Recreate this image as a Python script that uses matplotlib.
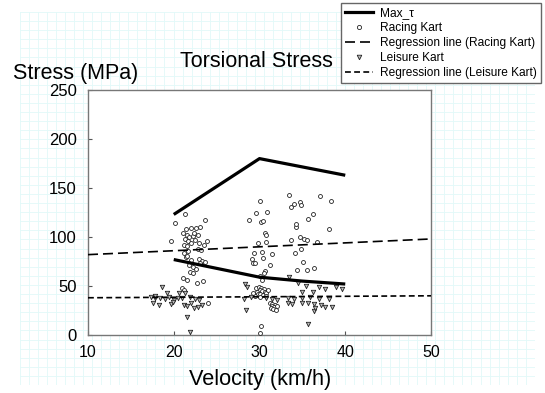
import matplotlib
matplotlib.use("Agg")
import matplotlib.pyplot as plt
from matplotlib.lines import Line2D
import numpy as np

plt.rcParams['font.family'] = ['Liberation Sans', 'DejaVu Sans']

# ---------------- data ----------------
max_tau_upper_v = [20, 30, 40]
max_tau_upper_s = [123, 180, 163]
max_tau_lower_v = [20, 30, 35, 40]
max_tau_lower_s = [77, 59, 55, 52]

reg_racing_v = [10, 50]
reg_racing_s = [82, 98]
reg_leisure_v = [10, 50]
reg_leisure_s = [38, 40]

racing_v = [21.3, 20.2, 23.6, 19.7, 21.4, 22.0, 22.6, 23.1, 21.1, 21.5, 21.8, 22.2, 21.3, 21.7,
            22.0, 21.2, 21.6, 22.5, 23.0, 23.5, 23.9, 22.8, 23.2, 21.7, 21.2, 21.4, 22.9, 23.3,
            23.6, 23.1, 21.8, 22.2, 22.6, 21.9, 22.3, 21.1, 21.5, 23.4, 22.7, 21.0, 21.2, 24.0,
            22.0, 21.6, 22.4, 22.8,
            33.4, 37.0, 30.1, 33.7, 34.0, 34.7, 34.8, 38.3, 29.6, 30.9, 36.2, 28.8, 30.2, 30.4,
            34.2, 34.3, 35.7, 38.1, 30.6, 30.8, 34.7, 35.2, 35.5, 33.7, 29.8, 30.8, 36.7, 34.8,
            29.4, 30.3, 31.4, 34.1, 29.1, 30.4, 29.2, 29.5, 35.1, 31.2, 36.4, 34.4, 35.5, 30.6,
            30.5, 30.0, 30.3,
            29.6, 29.9, 30.2, 30.5, 30.0, 30.3, 29.7, 30.6, 29.8, 30.1, 30.4, 30.8, 29.5, 30.0,
            30.7, 29.3, 31.0,
            31.2, 31.5, 31.8, 31.4, 31.7, 31.3, 31.6, 31.9, 32.0, 30.2, 30.1]
racing_s = [123, 114, 117, 96, 108, 109, 109, 110, 104, 102, 100, 101, 98, 96,
            94, 92, 91, 97, 94, 92, 96, 88, 87, 86, 84, 80, 78, 76,
            74, 73, 71, 69, 67, 64, 63, 58, 56, 55, 53, 48, 46, 33,
            77, 81, 104, 102,
            143, 142, 137, 131, 134, 136, 133, 137, 124, 126, 123, 117, 115, 116,
            110, 113, 118, 108, 104, 102, 100, 98, 97, 97, 94, 95, 95, 88,
            84, 85, 83, 84, 78, 79, 73, 73, 75, 71, 68, 66, 66, 65,
            63, 60, 56,
            48, 49, 48, 47, 46, 45, 44, 44, 42, 42, 41, 43, 40, 39,
            40, 43, 46,
            33, 32, 31, 30, 29, 28, 27, 26, 30, 9, 2]

leisure_v = [18.6, 19.2, 20.6, 21.3, 17.3, 17.8, 18.4, 19.0, 19.5, 20.0, 20.5, 21.0, 21.9, 22.5,
             23.0, 17.6, 18.3, 19.7, 21.2, 21.6, 22.0, 22.4, 22.8, 23.3, 21.6, 21.9, 19.9, 17.8,
             33.4, 28.3, 28.6, 34.5, 35.4, 36.9, 37.6, 38.9, 39.6, 35.0, 36.2, 28.2, 29.0, 33.3,
             34.0, 35.0, 35.9, 36.9, 38.1, 33.3, 33.8, 35.0, 35.6, 36.4, 37.2, 37.6, 38.5, 28.4,
             36.3, 36.5, 35.6, 30.7, 31.5, 32.0]
leisure_s = [49, 43, 43, 43, 39, 38, 38, 37, 39, 36, 38, 38, 39, 37,
             36, 33, 31, 32, 31, 30, 33, 28, 29, 31, 18, 3, 34, 40,
             59, 52, 49, 53, 50, 49, 47, 49, 47, 44, 44, 37, 39, 38,
             37, 38, 39, 37, 37, 33, 32, 33, 33, 32, 31, 29, 29, 26,
             25, 28, 11, 38, 37, 36]

x_ticks = [10, 20, 30, 40, 50]
y_ticks = [0, 50, 100, 150, 200, 250]

# ---------------- figure ----------------
W, H = 545, 393
fig = plt.figure(figsize=(W / 100, H / 100), dpi=100)
fig.patch.set_facecolor('white')

# graph-paper background
bg = fig.add_axes([20 / W, 8 / H, 515 / W, 373 / H], zorder=0)
bg.set_xlim(0, 515)
bg.set_ylim(0, 373)
for gx in np.arange(0, 516, 9.03):
    bg.axvline(gx, color='#e2f9f9', lw=0.6)
for gy in np.arange(0, 374, 9.1):
    bg.axhline(gy, color='#e2f9f9', lw=0.6)
bg.axis('off')

ax = fig.add_axes([88 / W, 1 - 335 / H, 343 / W, 245 / H], zorder=2)
ax.set_facecolor('white')

ax.scatter(racing_v, racing_s, s=8, marker='o', facecolors='white', edgecolors='#222222',
           linewidths=0.6, zorder=3)
ax.scatter(leisure_v, leisure_s, s=10, marker='v', facecolors='#bbbbbb', edgecolors='#222222',
           linewidths=0.6, zorder=3)

ax.plot(max_tau_upper_v, max_tau_upper_s, color='black', lw=2.3, zorder=4,
        solid_capstyle='butt')
ax.plot(max_tau_lower_v, max_tau_lower_s, color='black', lw=2.3, zorder=4,
        solid_capstyle='butt')
ax.plot(reg_racing_v, reg_racing_s, color='black', lw=1.2, dashes=(6, 3), zorder=4)
ax.plot(reg_leisure_v, reg_leisure_s, color='black', lw=1.2, dashes=(3.5, 2), zorder=4)

ax.set_xlim(10, 50)
ax.set_ylim(0, 250)
ax.set_xticks(x_ticks)
ax.set_yticks(y_ticks)
ax.tick_params(axis='x', direction='in', length=3, labelsize=11.5, pad=7, color='#555555')
ax.tick_params(axis='y', direction='in', length=3, labelsize=12, pad=8, color='#555555')
for sp in ax.spines.values():
    sp.set_color('#777777')
    sp.set_linewidth(1.0)

fig.text(13 / W, 1 - 79 / H, 'Stress (MPa)', fontsize=15.5, va='baseline', ha='left')
fig.text(256 / W, 1 - 67 / H, 'Torsional Stress', fontsize=15.5, va='baseline', ha='center')
fig.text(260 / W, 1 - 385 / H, 'Velocity (km/h)', fontsize=15.7, va='baseline', ha='center')

handles = [
    Line2D([], [], color='black', lw=2.3),
    Line2D([], [], ls='none', marker='o', ms=3, mfc='white', mec='#222222', mew=0.6),
    Line2D([], [], color='black', lw=1.2, dashes=(6, 3)),
    Line2D([], [], ls='none', marker='v', ms=3.3, mfc='#bbbbbb', mec='#222222', mew=0.6),
    Line2D([], [], color='black', lw=1.2, dashes=(3.5, 2)),
]
labels = ['Max_\u03c4', 'Racing Kart', 'Regression line (Racing Kart)', 'Leisure Kart',
          'Regression line (Leisure Kart)']
leg = fig.legend(handles, labels, loc='upper right', bbox_to_anchor=(541 / W, 1 - 3 / H),
                 fontsize=8.6, frameon=True, fancybox=False, framealpha=1,
                 edgecolor='#666666', borderpad=0.35, labelspacing=0.25,
                 handlelength=2.4, handletextpad=0.55, borderaxespad=0)
leg.get_frame().set_linewidth(1.0)
leg.set_zorder(5)

fig.savefig('out.png', dpi=100)
